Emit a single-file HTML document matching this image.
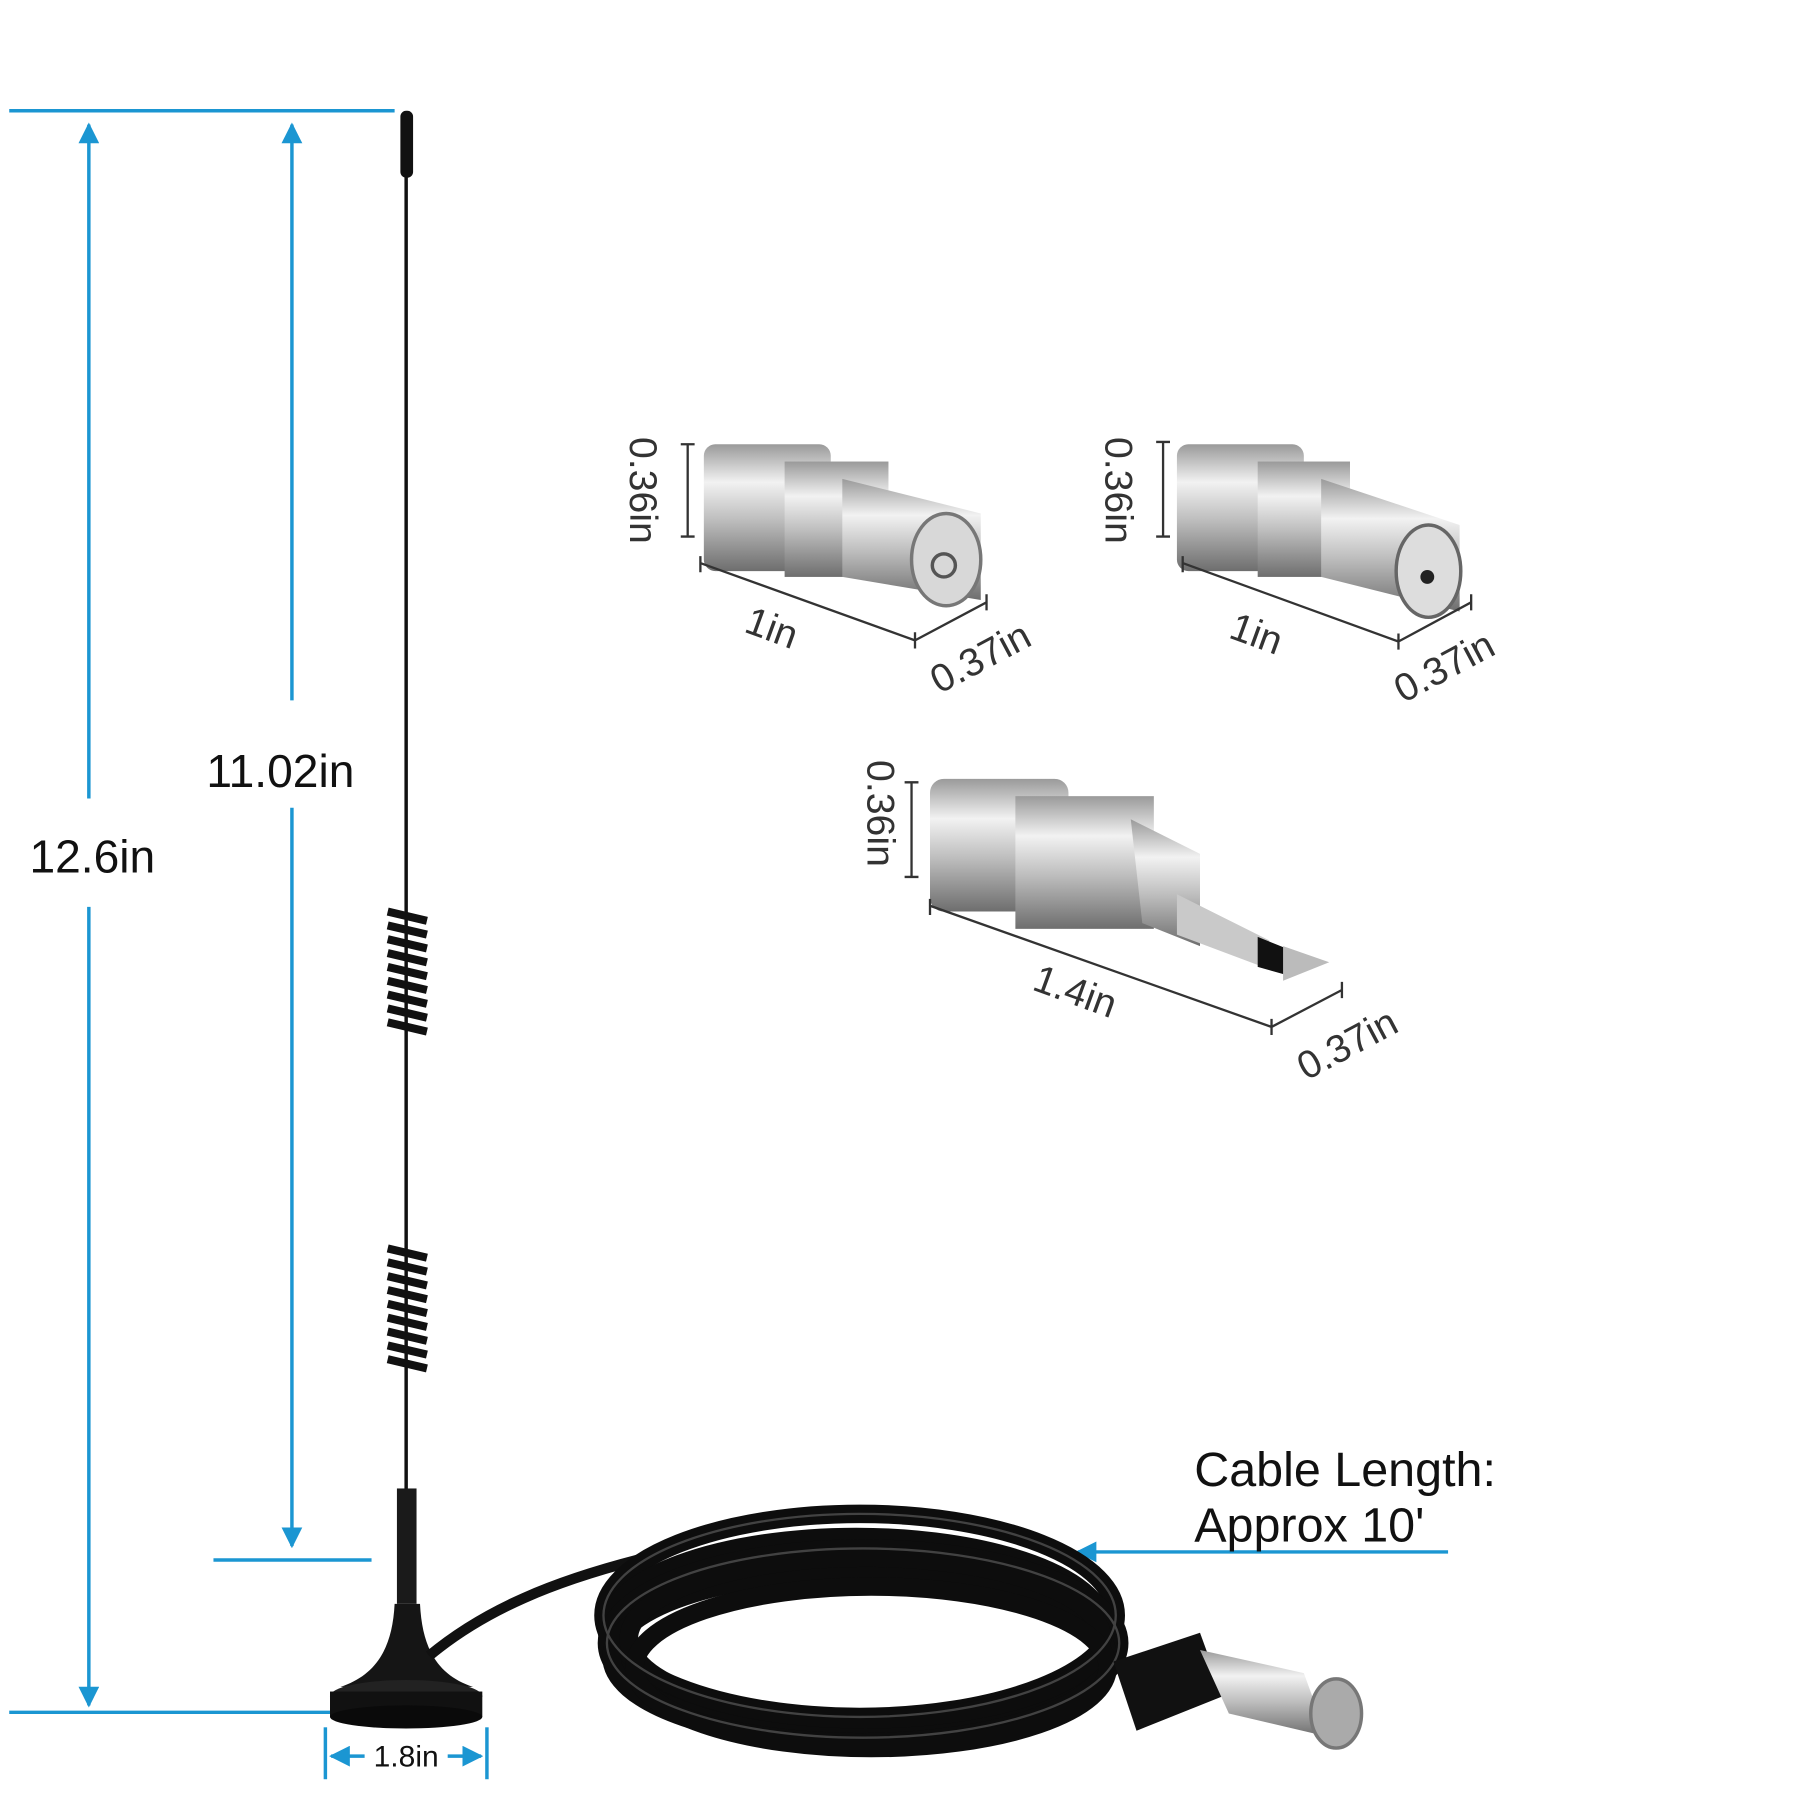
<!DOCTYPE html>
<html><head><meta charset="utf-8"><style>html,body{margin:0;padding:0;background:#fff}svg{display:block}</style></head>
<body>
<svg width="1800" height="1800" viewBox="0 0 1560 1560" xmlns="http://www.w3.org/2000/svg">
<defs>
<linearGradient id="sil" x1="0" y1="0" x2="0" y2="1">
<stop offset="0" stop-color="#9a9a9a"/><stop offset="0.3" stop-color="#f2f2f2"/><stop offset="0.6" stop-color="#bdbdbd"/><stop offset="1" stop-color="#6e6e6e"/></linearGradient>
<marker id="ah" viewBox="0 0 10 10" refX="9" refY="5" markerWidth="6" markerHeight="6" orient="auto-start-reverse"><path d="M0,0L10,5L0,10z" fill="#1b96d2"/></marker>
</defs>
<rect width="1560" height="1560" fill="#fff"/>
<g stroke="#1b96d2" stroke-width="3" fill="none">
<line x1="8" y1="96" x2="342" y2="96"/>
<line x1="77" y1="108" x2="77" y2="692" marker-start="url(#ah)"/>
<line x1="77" y1="786" x2="77" y2="1478" marker-end="url(#ah)"/>
<line x1="253" y1="108" x2="253" y2="607" marker-start="url(#ah)"/>
<line x1="253" y1="700" x2="253" y2="1340" marker-end="url(#ah)"/>
<line x1="185" y1="1352" x2="322" y2="1352"/>
<line x1="8" y1="1484" x2="290" y2="1484"/>
<line x1="282" y1="1497" x2="282" y2="1542"/>
<line x1="422" y1="1497" x2="422" y2="1542"/>
<line x1="316" y1="1522" x2="287" y2="1522" marker-end="url(#ah)"/>
<line x1="388" y1="1522" x2="417" y2="1522" marker-end="url(#ah)"/>
<line x1="1255" y1="1345" x2="934" y2="1345" marker-end="url(#ah)"/>
</g>
<g font-family="Liberation Sans, sans-serif" fill="#111">
<text x="80" y="756" font-size="40" text-anchor="middle">12.6in</text>
<text x="243" y="682" font-size="40" text-anchor="middle">11.02in</text>
<text x="352" y="1531" font-size="26" text-anchor="middle">1.8in</text>
<text x="1035" y="1288" font-size="42">Cable Length:</text>
<text x="1035" y="1336" font-size="42">Approx 10'</text>
</g>
<!-- antenna -->
<g>
<line x1="352" y1="140" x2="352" y2="1300" stroke="#111" stroke-width="3"/>
<rect x="347" y="96" width="11" height="58" rx="5" fill="#111"/>
<g stroke="#111" stroke-width="7" fill="none">
<path d="M336,790 L370,798 M336,802 L370,810 M336,814 L370,822 M336,826 L370,834 M336,838 L370,846 M336,850 L370,858 M336,862 L370,870 M336,874 L370,882 M336,886 L370,894"/>
<path d="M336,1082 L370,1090 M336,1094 L370,1102 M336,1106 L370,1114 M336,1118 L370,1126 M336,1130 L370,1138 M336,1142 L370,1150 M336,1154 L370,1162 M336,1166 L370,1174 M336,1178 L370,1186"/>
</g>
<rect x="344" y="1290" width="17" height="100" fill="#1a1a1a"/>
<path d="M342,1390 L364,1390 C366,1430 380,1452 410,1462 L295,1462 C325,1452 340,1430 342,1390Z" fill="#151515"/>
<ellipse cx="352" cy="1470" rx="66" ry="14" fill="#222"/>
<rect x="286" y="1466" width="132" height="22" fill="#111"/>
<ellipse cx="352" cy="1488" rx="66" ry="10" fill="#0a0a0a"/>
<path d="M372,1435 C420,1395 480,1370 560,1350" stroke="#111" stroke-width="9" fill="none"/>
</g>
<!-- cable coil -->
<g fill="none" stroke="#0d0d0d" stroke-width="16">
<ellipse cx="745" cy="1400" rx="222" ry="88"/>
<ellipse cx="742" cy="1412" rx="216" ry="80"/>
<ellipse cx="748" cy="1424" rx="222" ry="82"/>
<ellipse cx="745" cy="1436" rx="215" ry="74"/>
<ellipse cx="750" cy="1420" rx="205" ry="70"/>
<ellipse cx="755" cy="1445" rx="205" ry="70"/>
</g>
<g fill="none" stroke="#666" stroke-width="2" opacity="0.6">
<ellipse cx="745" cy="1400" rx="222" ry="88"/>
<ellipse cx="748" cy="1424" rx="222" ry="82"/>
</g>
<path d="M965,1440 L1040,1415 L1060,1470 L985,1500 Z" fill="#111"/>
<path d="M1040,1430 L1130,1450 L1150,1505 L1065,1485Z" fill="url(#sil)"/>
<ellipse cx="1158" cy="1485" rx="22" ry="30" fill="#aaa" stroke="#777" stroke-width="3"/>
<!-- connectors -->
<g>
<rect x="610" y="385" width="110" height="110" rx="10" fill="url(#sil)"/>
<rect x="680" y="400" width="90" height="100" fill="url(#sil)"/>
<path d="M730,415 L850,445 L850,520 L730,500Z" fill="url(#sil)"/>
<ellipse cx="820" cy="485" rx="30" ry="40" fill="#d8d8d8" stroke="#777" stroke-width="3"/>
<circle cx="818" cy="490" r="10" fill="none" stroke="#555" stroke-width="3"/>
<rect x="1020" y="385" width="110" height="110" rx="10" fill="url(#sil)"/>
<rect x="1090" y="400" width="80" height="100" fill="url(#sil)"/>
<path d="M1145,415 L1265,455 L1265,530 L1145,500Z" fill="url(#sil)"/>
<ellipse cx="1238" cy="495" rx="28" ry="40" fill="#ddd" stroke="#666" stroke-width="3"/>
<circle cx="1237" cy="500" r="6" fill="#222"/>
<rect x="806" y="675" width="120" height="115" rx="12" fill="url(#sil)"/>
<rect x="880" y="690" width="120" height="115" fill="url(#sil)"/>
<path d="M980,710 L1040,740 L1040,820 L990,800Z" fill="url(#sil)"/>
<path d="M1020,775 L1100,815 L1100,840 L1020,810Z" fill="#c9c9c9"/>
<path d="M1090,812 L1115,822 L1115,845 L1090,838Z" fill="#111"/>
<path d="M1112,820 L1152,834 L1112,850Z" fill="#bbb"/>
</g>
<g stroke="#333" stroke-width="2" fill="none">
<path d="M596,385 V465 M590,385 H602 M590,465 H602"/>
<path d="M607,488 L793,555 M607,482 V496 M793,548 V562 M793,555 L855,522 M855,515 V529"/>
<path d="M1008,383 V465 M1002,383 H1014 M1002,465 H1014"/>
<path d="M1025,488 L1212,556 M1025,482 V496 M1212,549 V563 M1212,556 L1275,522 M1275,515 V529"/>
<path d="M790,678 V760 M784,678 H796 M784,760 H796"/>
<path d="M806,785 L1102,890 M806,779 V793 M1102,883 V897 M1102,890 L1163,858 M1163,851 V865"/>
</g>
<g font-family="Liberation Sans, sans-serif" fill="#333" font-size="34">
<text transform="translate(546,425) rotate(90)" text-anchor="middle">0.36in</text>
<text transform="translate(958,425) rotate(90)" text-anchor="middle">0.36in</text>
<text transform="translate(752,705) rotate(90)" text-anchor="middle">0.36in</text>
<text transform="translate(665,555) rotate(20)" text-anchor="middle">1in</text>
<text transform="translate(1085,560) rotate(20)" text-anchor="middle">1in</text>
<text transform="translate(928,870) rotate(20)" text-anchor="middle">1.4in</text>
<text transform="translate(855,580) rotate(-28)" text-anchor="middle">0.37in</text>
<text transform="translate(1257,588) rotate(-28)" text-anchor="middle">0.37in</text>
<text transform="translate(1173,915) rotate(-28)" text-anchor="middle">0.37in</text>
</g>
</svg>
</body></html>
